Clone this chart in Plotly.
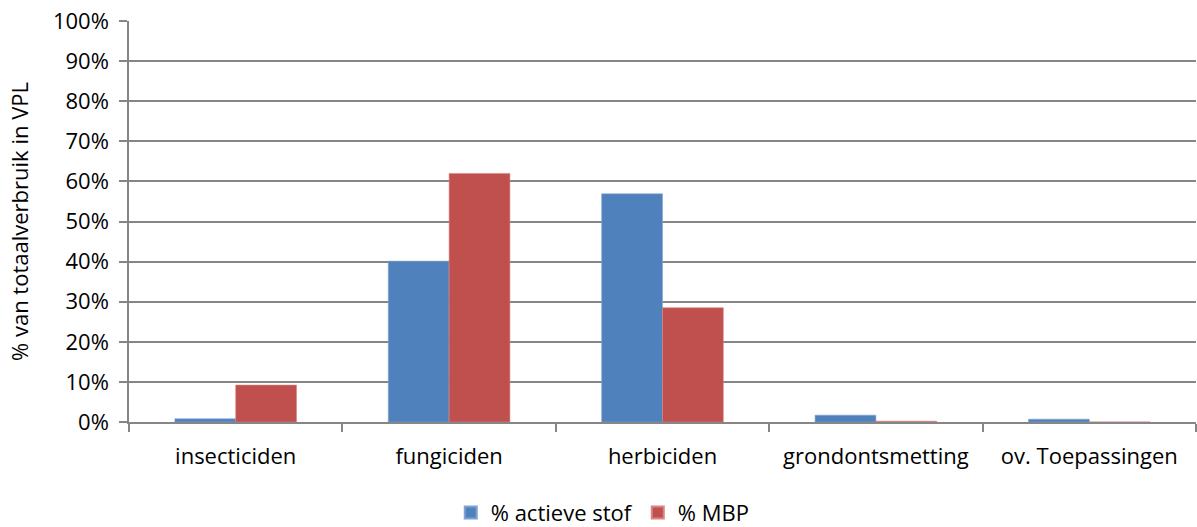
import plotly.graph_objects as go

categories = ["insecticiden", "fungiciden", "herbiciden", "grondontsmetting", "ov. Toepassingen"]
actieve_stof = [0.8, 40.1, 56.9, 1.7, 0.7]
mbp = [9.2, 62.0, 28.5, 0.2, 0.0]
y_ticks = list(range(0, 101, 10))
y_tick_labels = [f"{v}%" for v in y_ticks]

font_family = "Open Sans, Noto Sans, sans-serif"
grid = "#868686"
fs = 22

fig = go.Figure()
fig.add_trace(go.Bar(x=categories, y=actieve_stof, name="% actieve stof",
                     marker=dict(color="#4F81BD", line=dict(color="#7FA3D0", width=0.6))))
fig.add_trace(go.Bar(x=categories, y=mbp, name="% MBP",
                     marker=dict(color="#C0504D", line=dict(color="#D88684", width=0.6))))

fig.update_layout(
    width=1197, height=527,
    margin=dict(l=129, r=1, t=21, b=105),
    paper_bgcolor="white", plot_bgcolor="white",
    barmode="group", bargap=0.43, bargroupgap=0,
    font=dict(family=font_family, size=fs, color="black"),
    showlegend=True,
    legend=dict(orientation="h", x=0.444, xanchor="center",
                yref="container", y=0.027, yanchor="middle",
                font=dict(size=fs), itemsizing="constant", traceorder="normal",
                itemwidth=30),
)
fig.update_xaxes(
    type="category", showline=True, linecolor=grid, linewidth=1.5,
    ticks="outside", ticklen=8, tickcolor=grid, tickwidth=1.5,
    tickson="boundaries", showgrid=False, tickfont=dict(size=fs),
    ticklabelstandoff=14,
)
fig.update_yaxes(
    range=[0, 100], tickvals=y_ticks, ticktext=y_tick_labels,
    showline=True, linecolor=grid, linewidth=1.5,
    ticks="outside", ticklen=8, tickcolor=grid, tickwidth=1.5,
    showgrid=True, gridcolor=grid, gridwidth=1.5, zeroline=False,
    title=dict(text="% van totaalverbruik in VPL", font=dict(size=fs), standoff=18),
    tickfont=dict(size=fs), ticklabelstandoff=6,
)

fig.write_html("out.html")
